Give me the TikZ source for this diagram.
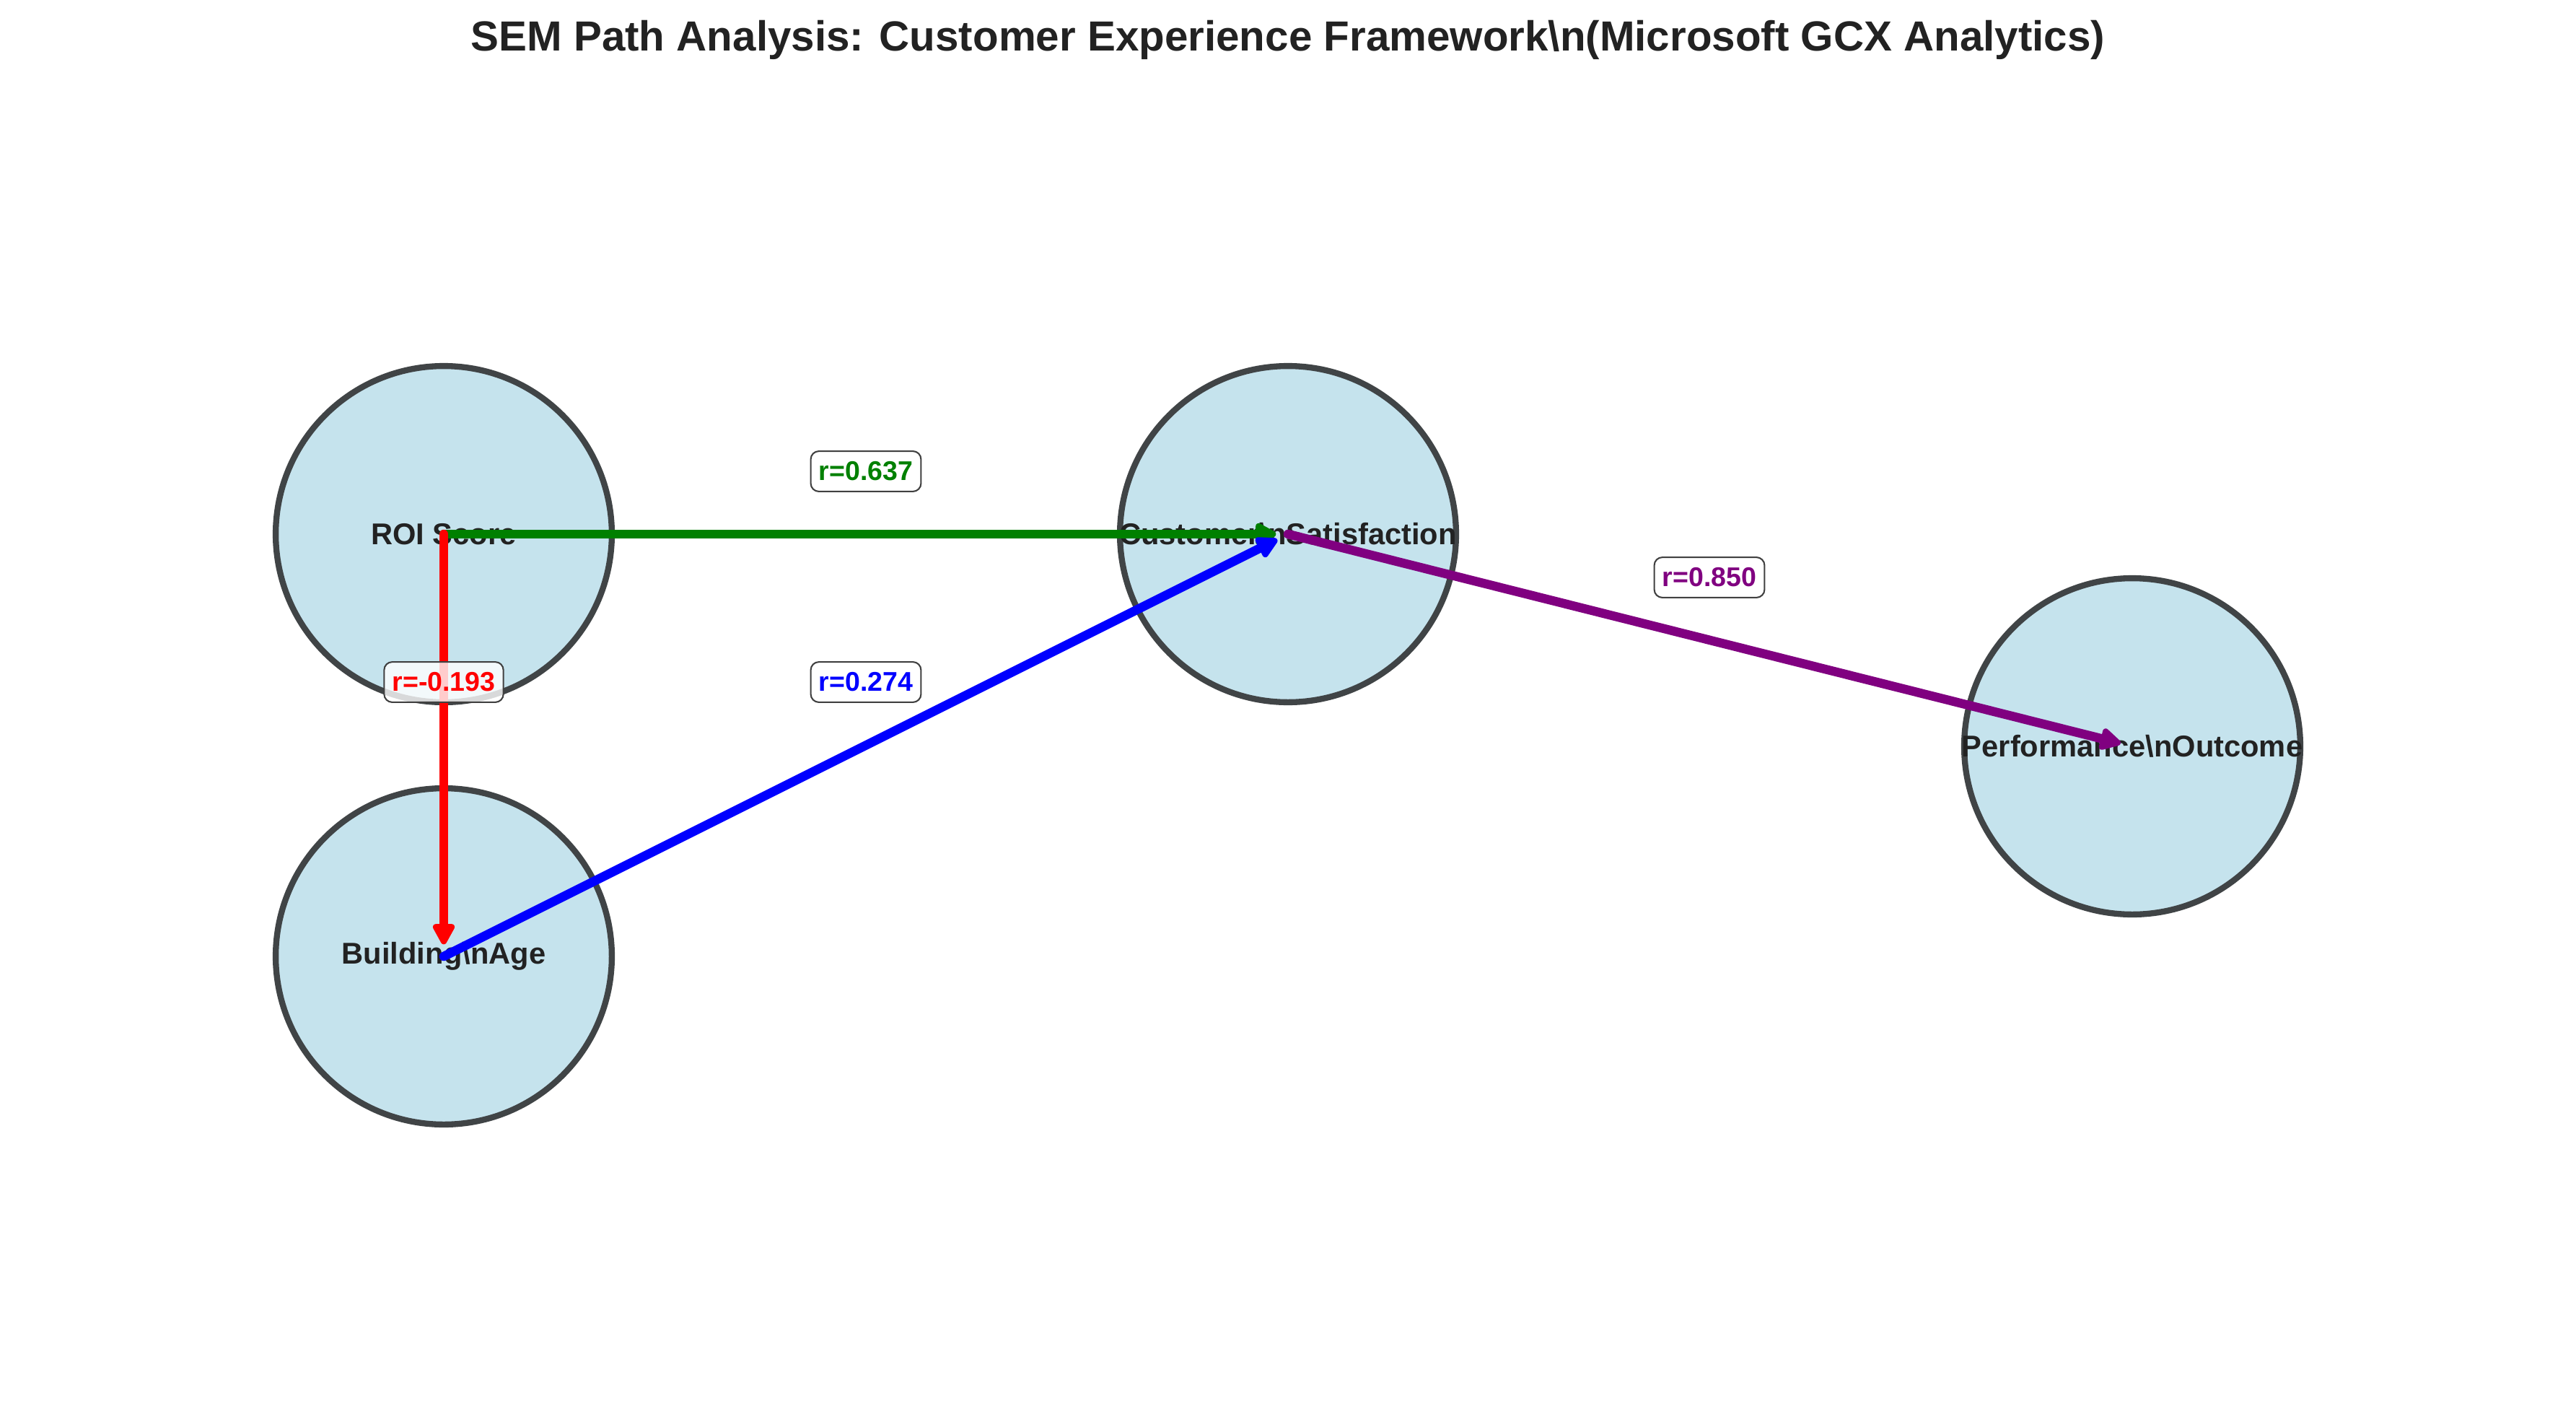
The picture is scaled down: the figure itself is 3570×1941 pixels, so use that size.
\documentclass[tikz,border=0pt]{standalone}
\usepackage{fontspec}
\setmainfont{Liberation Sans}
\usetikzlibrary{arrows.meta}
\definecolor{nodefill}{RGB}{197,227,237}
\definecolor{nodeedge}{RGB}{64,68,70}
\definecolor{txt}{RGB}{34,34,34}
\definecolor{mgreen}{RGB}{0,128,0}
\definecolor{mpurple}{RGB}{128,0,128}
\begin{document}
\begin{tikzpicture}[x=0.24pt,y=-0.24pt,
 circ/.style={circle,fill=nodefill,draw=nodeedge,line width=2pt,minimum size=111.8pt,inner sep=0pt},
 ntext/.style={font=\fontsize{10}{12}\selectfont\bfseries,text=txt,inner sep=0pt},
 semarrow/.style={line width=3pt,line cap=round,-{Triangle[length=8pt,width=8pt,round]},shorten >=4pt},
 rlab/.style={draw=black!75,line width=0.5pt,fill=white,fill opacity=0.8,text opacity=1,rounded corners=2.7pt,inner xsep=2.7pt,inner ysep=0pt,minimum height=13.4pt,font=\fontsize{9}{10.8}\selectfont\bfseries}
]
\useasboundingbox (0,0) rectangle (3570,1941);
\node[font=\fontsize{14}{16.8}\selectfont\bfseries,text=txt] (title) at (1785,55) {SEM Path Analysis: Customer Experience Framework\textbackslash n(Microsoft GCX Analytics)};
% circles
\node[circ] (roi) at (615,740) {};
\node[circ] (cust) at (1785,740) {};
\node[circ] (perf) at (2955,1034) {};
\node[circ] (bldg) at (615,1325) {};
% texts
\node[ntext] (roiT) at (roi.center) {ROI Score};
\node[ntext] (custT) at (cust.center) {Customer\textbackslash nSatisfaction};
\node[ntext] (perfT) at (perf.center) {Performance\textbackslash nOutcome};
\node[ntext] (bldgT) at (bldg.center) {Building\textbackslash nAge};
% arrows
\draw[semarrow,mgreen] (roi.center) -- (cust.center);
\draw[semarrow,red] (roi.center) -- (bldg.center);
\draw[semarrow,blue] (bldg.center) -- (cust.center);
\draw[semarrow,mpurple] (cust.center) -- (perf.center);
% labels
\node[rlab,text=mgreen] (l1) at (1200,653) {r=0.637};
\node[rlab,text=red] (l2) at (615,945) {r=-0.193};
\node[rlab,text=blue] (l3) at (1200,945) {r=0.274};
\node[rlab,text=mpurple] (l4) at (2369,800) {r=0.850};
\end{tikzpicture}
\end{document}
